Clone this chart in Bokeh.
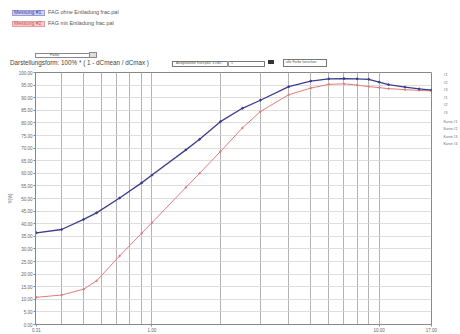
from bokeh.plotting import figure
from bokeh.models import (Range1d, FixedTicker, SingleIntervalTicker, PrintfTickFormatter,
                          LinearAxis, Div)
from bokeh.layouts import column
from bokeh.embed import file_html
from bokeh.resources import INLINE

# ---- data ----
sizes = [0.31, 0.4, 0.5, 0.57, 0.72, 0.9, 1.0, 1.41, 1.62, 2.0, 2.5, 3.0, 4.0, 5.0,
         6.0, 7.0, 8.0, 9.0, 10.0, 11.0, 13.0, 15.0, 17.0]
mess1 = [36.4, 37.7, 41.7, 44.3, 50.2, 56.2, 59.3, 69.3, 73.5, 80.5, 85.8, 89.0, 94.4, 96.6,
         97.5, 97.6, 97.5, 97.3, 96.2, 95.2, 94.2, 93.5, 93.0]
mess2 = [10.8, 11.7, 14.0, 17.3, 27.2, 36.2, 40.4, 54.4, 60.0, 68.6, 78.0, 84.5, 91.2, 93.8,
         95.3, 95.5, 95.0, 94.4, 94.0, 93.6, 93.2, 92.9, 92.7]
x_tick_values = [0.31, 1.0, 10.0, 17.0]
legend_names = ["Messung #1", "Messung #2"]
legend_files = ["FAG ohne Entladung frac.pal", "FAG mit Entladung frac.pal"]
right_labels = ["#1", "#2", "#3", "#1", "#2", "#3", "Kurve #1", "Kurve #2", "Kurve #3", "Kurve #4"]
title_text = "Darstellungsform: 100% * ( 1 - dCmean / dCmax )"
y_title = "Y(%)"

FONT = "Liberation Sans"
BLUE = "#3b3d8c"
RED = "#e07c7c"
HEAD_H = 70


def span(x, y, text, size, color="#555555", extra=""):
    return (f"<span style='position:absolute;left:{x}px;top:{y - size / 2:.1f}px;"
            f"font-size:{size}px;line-height:{size}px;color:{color};white-space:nowrap;{extra}'>"
            f"{text}</span>")


def rect(l, t, w, h, fill="white", line="#888888"):
    return (f"<div style='position:absolute;left:{l}px;top:{t}px;width:{w}px;height:{h}px;"
            f"background:{fill};border:0.6px solid {line};box-sizing:border-box'></div>")


parts = [
    rect(12, 9.5, 33, 6, "#cfd0f2", "#9a9ad8"),
    rect(12, 20.5, 33, 6, "#f5cccc", "#e0a0a0"),
    span(14, 12.5, legend_names[0], 5, BLUE),
    span(14, 23.5, legend_names[1], 5, "#d05050"),
    span(48, 12.5, legend_files[0], 5.5),
    span(48, 23.5, legend_files[1], 5.5),
    rect(35, 53, 55, 4.5),
    span(50, 55.2, "Farbe", 3.5),
    rect(89, 52, 8, 6, "#dddddd"),
    span(10, 63.5, title_text, 6.3, "#444444"),
    rect(172, 61, 93, 6, "white", "#777777"),
    rect(227, 61, 0.6, 6, "#999999", "#999999"),
    span(176, 64, "Ausgewählte Kurv.pos. x.cds.:", 3.5),
    span(231, 64, "1", 3.5),
    rect(268, 59.5, 6, 4.5, "#333333", "#333333"),
    rect(283, 58.5, 44, 8, "white", "#777777"),
    span(286, 62.5, "alle Farbe loeschen", 3.5),
]
header = Div(text=(f"<div style='position:relative;width:460px;height:{HEAD_H}px;"
                   f"font-family:\"{FONT}\";overflow:hidden'>" + "".join(parts) + "</div>"),
             width=460, height=HEAD_H, margin=0)

p = figure(width=460, height=334 - HEAD_H, x_axis_type="log", x_range=Range1d(0.307, 17.0),
           y_range=Range1d(0, 100), toolbar_location=None, output_backend="svg",
           min_border_left=35, min_border_right=27, min_border_top=2, min_border_bottom=9)
p.outline_line_color = "#888888"
p.outline_line_width = 1

p.xaxis.ticker = FixedTicker(ticks=x_tick_values)
p.xaxis.formatter = PrintfTickFormatter(format="%.2f")
p.yaxis.ticker = SingleIntervalTicker(interval=5)
p.yaxis.formatter = PrintfTickFormatter(format="%.2f")
for ax in (p.xaxis[0], p.yaxis[0]):
    ax.major_label_text_font_size = "4.5px"
    ax.major_label_text_font = FONT
    ax.major_label_text_color = "#666666"
    ax.axis_line_color = "#888888"
    ax.major_tick_line_color = "#888888"
    ax.major_tick_out = 2
    ax.major_tick_in = 0
    ax.minor_tick_out = 0
    ax.minor_tick_in = 0
    ax.major_label_standoff = 1
p.yaxis.axis_label = y_title
p.yaxis.axis_label_text_font_size = "4.5px"
p.yaxis.axis_label_text_font_style = "normal"
p.yaxis.axis_label_text_color = "#666666"
p.yaxis.axis_label_standoff = 3

p.ygrid.ticker = SingleIntervalTicker(interval=5)
p.ygrid.grid_line_color = "#d4d4d4"
p.ygrid.grid_line_width = 0.8
grid_x = [m * 10.0 ** e for e in (-1, 0) for m in range(1, 10) if 0.31 < m * 10.0 ** e] + [10.0]
p.xgrid.ticker = FixedTicker(ticks=grid_x)
p.xgrid.grid_line_color = "#aaaaaa"
p.xgrid.grid_line_width = 0.9

right_pos = [99, 96, 93, 90, 87, 84, 80.5, 77.5, 74.5, 71.5]
rax = LinearAxis(ticker=FixedTicker(ticks=right_pos),
                 major_label_overrides={v: t for v, t in zip(right_pos, right_labels)})
rax.axis_line_color = None
rax.major_tick_line_color = None
rax.minor_tick_line_color = None
rax.major_label_text_font_size = "3.5px"
rax.major_label_text_color = "#666666"
rax.major_label_standoff = 6
p.add_layout(rax, "right")

p.line(sizes, mess2, line_color=RED, line_width=1)
p.scatter(sizes, mess2, size=1.5, color=RED)
p.line(sizes, mess1, line_color=BLUE, line_width=1.3)
p.scatter(sizes, mess1, size=1.8, color=BLUE)

layout = column(header, p, spacing=0)
open("out.html", "w").write(file_html(layout, INLINE))
